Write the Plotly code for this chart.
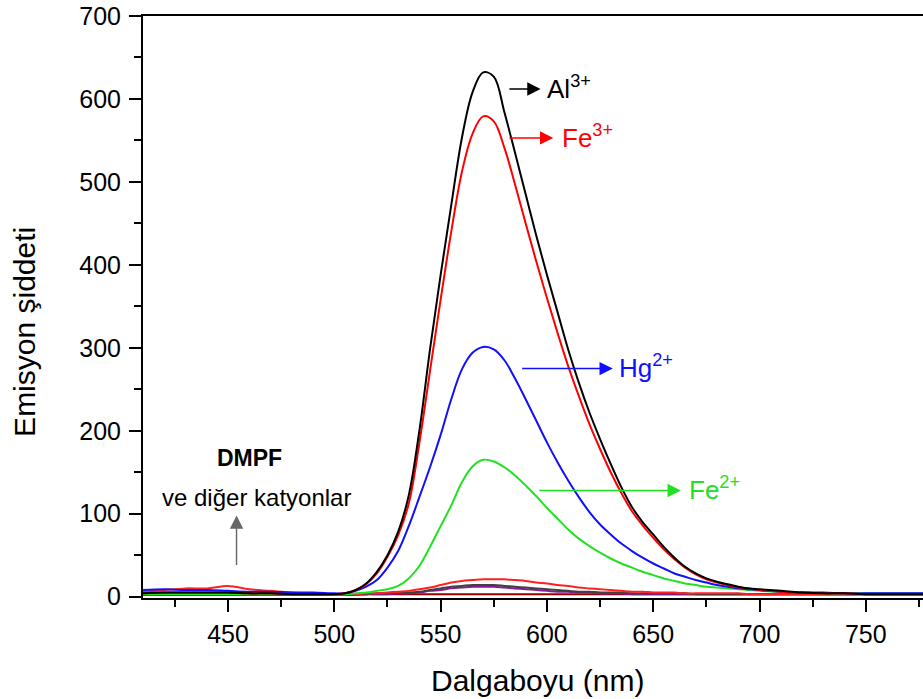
import plotly.graph_objects as go

# ---------------- data ----------------
wavelength = [410, 420, 430, 440, 450, 460, 470, 480, 490, 500,
              505, 510, 515, 520, 525, 530, 535, 540, 545, 550,
              555, 560, 565, 570, 575, 580, 585, 590, 595, 600,
              605, 610, 615, 620, 625, 630, 635, 640, 645, 650,
              655, 660, 665, 670, 675, 680, 685, 690, 695, 700,
              710, 720, 730, 740, 750, 760, 770, 780]

al3 = [4, 5, 5, 5, 5, 4, 4, 3, 3, 3,
       4, 8, 16, 30, 50, 78, 122, 200, 298, 388,
       472, 553, 608, 632, 627, 584, 535, 485, 435, 388,
       343, 298, 258, 222, 190, 160, 132, 108, 90, 75,
       60, 47, 36, 28, 22, 18, 15, 12, 10, 9,
       7, 5, 4, 4, 3, 3, 3, 3]

fe3 = [4, 5, 5, 5, 5, 4, 4, 3, 3, 3,
       4, 8, 15, 28, 48, 74, 112, 185, 272, 358,
       440, 512, 558, 579, 573, 541, 497, 450, 404, 360,
       318, 278, 242, 208, 178, 150, 125, 103, 86, 71,
       57, 45, 35, 27, 21, 17, 14, 11, 10, 8,
       6, 5, 4, 4, 3, 3, 3, 3]

hg2 = [8, 9, 8, 8, 7, 6, 6, 5, 5, 4,
       4, 7, 12, 20, 35, 55, 85, 120, 156, 195,
       238, 274, 294, 301, 298, 285, 263, 238, 212, 186,
       162, 140, 120, 102, 87, 75, 64, 55, 47, 40,
       34, 28, 24, 20, 17, 14, 12, 10, 9, 8,
       6, 5, 5, 4, 4, 4, 4, 4]

fe2 = [3, 3, 3, 3, 3, 3, 3, 3, 3, 3,
       3, 4, 5, 7, 9, 13, 22, 37, 60, 85,
       110, 138, 157, 165, 163, 156, 146, 134, 121, 107,
       94, 81, 70, 61, 53, 46, 40, 35, 30, 26,
       22, 19, 16, 14, 12, 11, 10, 9, 8, 7,
       6, 5, 4, 4, 4, 4, 4, 4]

other_red = [6, 8, 10, 10, 13, 9, 7, 5, 4, 3,
             3, 3, 4, 4, 5, 6, 7, 9, 11, 14,
             17, 19, 20, 21, 21, 21, 20, 19, 17, 16,
             14, 13, 11, 10, 9, 8, 7, 6, 6, 5,
             5, 5, 4, 4, 4, 4, 4, 4, 3, 3,
             3, 3, 3, 3, 3, 3, 3, 3]

other_gray = [3, 3, 3, 3, 3, 3, 3, 3, 3, 3,
              3, 3, 3, 4, 4, 5, 5, 6, 8, 10,
              12, 13, 14, 14, 14, 13, 12, 11, 10, 9,
              8, 7, 6, 6, 5, 5, 5, 4, 4, 4,
              4, 4, 4, 3, 3, 3, 3, 3, 3, 3,
              3, 3, 3, 3, 3, 3, 3, 3]

other_purple = [2, 2, 2, 2, 2, 2, 2, 2, 2, 2,
                2, 2, 3, 3, 3, 4, 4, 5, 7, 8,
                10, 11, 12, 12, 12, 11, 10, 9, 8, 7,
                6, 6, 5, 5, 4, 4, 4, 3, 3, 3,
                3, 3, 3, 3, 3, 3, 3, 3, 3, 3,
                3, 3, 3, 3, 3, 3, 3, 3]

other_darkred = [3, 4, 4, 4, 4, 4, 3, 3, 3, 3,
                 3, 3, 3, 3, 3, 3, 3, 3, 3, 3,
                 3, 3, 3, 3, 3, 3, 3, 3, 3, 3,
                 3, 3, 3, 3, 3, 3, 3, 3, 3, 3,
                 3, 3, 3, 3, 3, 3, 3, 3, 3, 3,
                 3, 3, 3, 3, 3, 3, 3, 3]

x_ticks = [450, 500, 550, 600, 650, 700, 750]
y_ticks = [0, 100, 200, 300, 400, 500, 600, 700]

# ---------------- styles ----------------
series = [
    ("other4", other_darkred, "#9a0000"),
    ("other3", other_purple, "#8a1a9a"),
    ("other2", other_gray, "#404040"),
    ("other1", other_red, "#ff2020"),
    ("Fe2+", fe2, "#22e022"),
    ("Hg2+", hg2, "#1010ff"),
    ("Fe3+", fe3, "#ff0000"),
    ("Al3+", al3, "#000000"),
]

fig = go.Figure()
for name, vals, col in series:
    fig.add_trace(go.Scatter(x=wavelength, y=vals, mode="lines", name=name,
                             line=dict(color=col, width=2, shape="spline", smoothing=1.0),
                             showlegend=False))

FONT = "Arial, Liberation Sans, sans-serif"

# arrows: (head_x, head_y, tail_x, tail_y, color)
arrows = [
    (597, 612, 580, 612, "#000000"),
    (603, 553, 580, 553, "#ff0000"),
    (631, 275, 586, 275, "#1010ff"),
    (663, 128, 594, 128, "#22e022"),
    (454, 98, 454, 20, "#666666"),
]
labels = [
    (599, 614, "Al<sup>3+</sup>", "#000000"),
    (606, 555, "Fe<sup>3+</sup>", "#ff0000"),
    (633, 277, "Hg<sup>2+</sup>", "#1010ff"),
    (666, 130, "Fe<sup>2+</sup>", "#22e022"),
]

annotations = []
for hx, hy, tx, ty, col in arrows:
    annotations.append(dict(x=hx, y=hy, ax=tx, ay=ty, xref="x", yref="y",
                            axref="x", ayref="y", showarrow=True, text=" ",
                            arrowhead=2, arrowsize=1.9, arrowwidth=1.4,
                            arrowcolor=col, standoff=0, startstandoff=0))
for lx, ly, txt, col in labels:
    annotations.append(dict(x=lx, y=ly, xref="x", yref="y", text=txt, showarrow=False,
                            xanchor="left", yanchor="middle",
                            font=dict(family=FONT, size=26, color=col)))

annotations.append(dict(x=460, y=167, xref="x", yref="y", text="<b>DMPF</b>",
                        showarrow=False, xanchor="center", yanchor="middle",
                        font=dict(family=FONT, size=23, color="#000000")))
annotations.append(dict(x=463.5, y=120, xref="x", yref="y", text="ve diğer katyonlar",
                        showarrow=False, xanchor="center", yanchor="middle",
                        font=dict(family=FONT, size=24, color="#000000")))
annotations.append(dict(x=0.5058, y=-0.142, xref="paper", yref="paper",
                        text="Dalgaboyu (nm)", showarrow=False,
                        xanchor="center", yanchor="middle",
                        font=dict(family=FONT, size=30, color="#000000")))
annotations.append(dict(x=-0.152, y=0.458, xref="paper", yref="paper",
                        text="Emisyon şiddeti", showarrow=False, textangle=-90,
                        xanchor="center", yanchor="middle",
                        font=dict(family=FONT, size=30, color="#000000")))

fig.update_layout(
    width=923, height=699,
    margin=dict(l=143, r=0, t=16, b=101),
    plot_bgcolor="white", paper_bgcolor="white",
    font=dict(family=FONT, size=24, color="#000000"),
    annotations=annotations,
)
fig.update_xaxes(range=[410, 776.9], tickvals=x_ticks, ticks="outside", ticklen=12,
                 tickwidth=2, tickcolor="#000", showline=True, linewidth=2,
                 linecolor="#000", mirror=True, showgrid=False, zeroline=False,
                 ticklabelstandoff=1,
                 minor=dict(ticks="outside", ticklen=7, tickwidth=2, tickcolor="#000",
                            dtick=25, tick0=0, showgrid=False),
                 tickfont=dict(family=FONT, size=25, color="#000"))
fig.update_yaxes(range=[-1.6, 700], tickvals=y_ticks, ticks="outside", ticklen=12,
                 tickwidth=2, tickcolor="#000", showline=True, linewidth=2,
                 linecolor="#000", mirror=False, showgrid=False, zeroline=False,
                 ticklabelstandoff=3,
                 minor=dict(ticks="outside", ticklen=7, tickwidth=2, tickcolor="#000",
                            dtick=50, tick0=0, showgrid=False),
                 tickfont=dict(family=FONT, size=25, color="#000"))

# remove the browser's default 8px body margin so the figure sits at (0, 0)
fig.write_html("out.html",
               config={"displayModeBar": False},
               post_script="document.body.style.margin='0px';document.body.style.overflow='hidden';")
